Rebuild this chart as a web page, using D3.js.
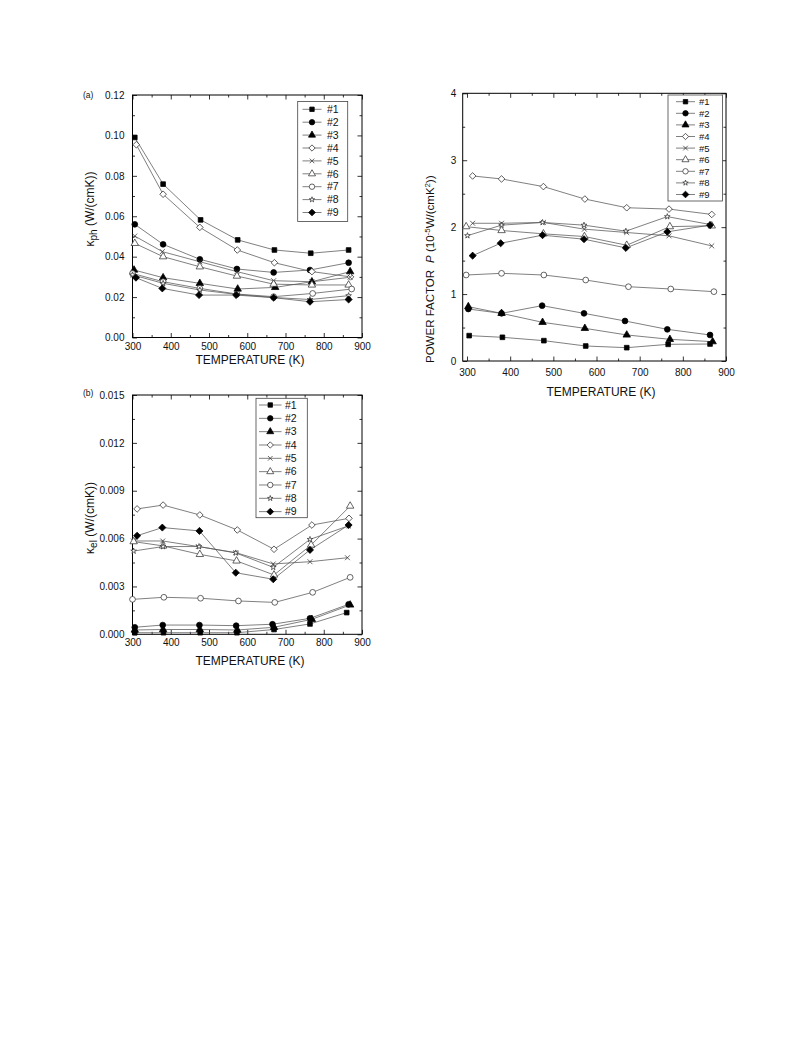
<!DOCTYPE html>
<html>
<head>
<meta charset="utf-8">
<script src="https://cdn.jsdelivr.net/npm/d3@7"></script>
<style>
  html, body { margin: 0; padding: 0; background: #fff; }
  svg { display: block; }
  text { font-family: "Liberation Sans", Arial, sans-serif; fill: #111; }
</style>
</head>
<body>
<svg id="chart" width="793" height="1059"></svg>
<script>
// ---------------- DATA ----------------
const seriesNames = ["#1", "#2", "#3", "#4", "#5", "#6", "#7", "#8", "#9"];

const xTicks = [300, 400, 500, 600, 700, 800, 900];
const xMinorTicks = [350, 450, 550, 650, 750, 850];

// (a) phonon thermal conductivity, W/(cmK)
const kphTemps = [
  [306, 380, 478, 575, 671, 766, 865],
  [306, 380, 476, 573, 669, 764, 865],
  [304, 380, 476, 575, 673, 769, 869],
  [310, 380, 476, 574, 671, 769, 870],
  [306, 378, 476, 573, 669, 769, 869],
  [306, 380, 476, 573, 669, 769, 865],
  [300, 380, 476, 573, 669, 771, 873],
  [300, 380, 476, 573, 669, 764, 865],
  [309, 378, 474, 571, 669, 764, 865]
];
const kphValues = [
  [0.0990, 0.0759, 0.0582, 0.0483, 0.0433, 0.0417, 0.0433],
  [0.0560, 0.0461, 0.0387, 0.0339, 0.0322, 0.0334, 0.0370],
  [0.0334, 0.0296, 0.0268, 0.0240, 0.0248, 0.0276, 0.0326],
  [0.0954, 0.0709, 0.0545, 0.0433, 0.0370, 0.0326, 0.0300],
  [0.0502, 0.0425, 0.0375, 0.0326, 0.0281, 0.0276, 0.0298],
  [0.0466, 0.0400, 0.0350, 0.0304, 0.0264, 0.0260, 0.0260],
  [0.0317, 0.0276, 0.0243, 0.0215, 0.0202, 0.0218, 0.0240],
  [0.0310, 0.0268, 0.0235, 0.0213, 0.0198, 0.0188, 0.0207],
  [0.0296, 0.0243, 0.0210, 0.0210, 0.0197, 0.0177, 0.0188]
];
const kphYTicks = [0.00, 0.02, 0.04, 0.06, 0.08, 0.10, 0.12];
const kphYMinor = [0.01, 0.03, 0.05, 0.07, 0.09, 0.11];

// (b) electronic thermal conductivity, W/(cmK)
const kelTemps = [
  [306, 381, 477, 573, 670, 764, 860],
  [306, 379, 475, 571, 666, 764, 865],
  [306, 380, 476, 574, 670, 769, 869],
  [312, 380, 476, 574, 670, 769, 866],
  [302, 379, 472, 570, 668, 764, 862],
  [303, 380, 476, 572, 670, 767, 869],
  [300, 382, 478, 577, 672, 771, 869],
  [303, 380, 474, 570, 668, 764, 865],
  [312, 378, 475, 570, 668, 764, 865]
];
const kelValues = [
  [0.00010, 0.00010, 0.00010, 0.00010, 0.00030, 0.00065, 0.00136],
  [0.00044, 0.00058, 0.00058, 0.00054, 0.00063, 0.00100, 0.00188],
  [0.00027, 0.00030, 0.00030, 0.00027, 0.00044, 0.00094, 0.00184],
  [0.00786, 0.00810, 0.00748, 0.00654, 0.00533, 0.00685, 0.00727],
  [0.00585, 0.00585, 0.00550, 0.00512, 0.00441, 0.00455, 0.00480],
  [0.00581, 0.00554, 0.00501, 0.00460, 0.00372, 0.00560, 0.00804],
  [0.00219, 0.00232, 0.00226, 0.00209, 0.00200, 0.00263, 0.00357],
  [0.00522, 0.00550, 0.00550, 0.00510, 0.00420, 0.00595, 0.00680],
  [0.00618, 0.00669, 0.00648, 0.00386, 0.00345, 0.00529, 0.00685]
];
const kelYTicks = [0.000, 0.003, 0.006, 0.009, 0.012, 0.015];
const kelYMinor = [0.0015, 0.0045, 0.0075, 0.0105, 0.0135];

// Power factor, 10^-5 W/(cmK^2)
const pfTemps = [
  [305, 382, 478, 575, 670, 766, 863],
  [303, 380, 474, 571, 666, 764, 863],
  [303, 380, 475, 573, 670, 770, 869],
  [313, 380, 477, 573, 670, 768, 867],
  [313, 380, 477, 572, 670, 768, 867],
  [298, 380, 477, 572, 670, 770, 867],
  [298, 380, 478, 575, 674, 772, 872],
  [301, 380, 475, 571, 668, 764, 863],
  [313, 378, 475, 571, 668, 764, 863]
];
const pfValues = [
  [0.379, 0.354, 0.304, 0.224, 0.199, 0.249, 0.254],
  [0.777, 0.712, 0.827, 0.712, 0.598, 0.473, 0.389],
  [0.812, 0.712, 0.578, 0.488, 0.389, 0.324, 0.289],
  [2.765, 2.720, 2.606, 2.420, 2.290, 2.270, 2.190],
  [2.058, 2.058, 2.070, 1.970, 1.920, 1.870, 1.720],
  [2.008, 1.950, 1.900, 1.860, 1.730, 2.008, 2.020],
  [1.285, 1.310, 1.285, 1.210, 1.110, 1.076, 1.036],
  [1.873, 2.030, 2.070, 2.030, 1.940, 2.157, 2.040],
  [1.574, 1.760, 1.880, 1.820, 1.690, 1.930, 2.030]
];
const pfYTicks = [0, 1, 2, 3, 4];
const pfYMinor = [0.5, 1.5, 2.5, 3.5];

// ---------------- STYLE ----------------
const crossSym = {
  draw(ctx, size) {
    const r = Math.sqrt(size) / 2;
    ctx.moveTo(-r, -r); ctx.lineTo(r, r);
    ctx.moveTo(r, -r); ctx.lineTo(-r, r);
  }
};
// marker style per series index
const markerStyle = [
  { type: d3.symbolSquare,   size: 22, fill: "#000", rot: 0 },
  { type: d3.symbolCircle,   size: 26, fill: "#000", rot: 0 },
  { type: d3.symbolTriangle, size: 24, fill: "#000", rot: 0 },
  { type: d3.symbolSquare,   size: 22, fill: "#fff", rot: 45 },
  { type: crossSym,          size: 24, fill: "none", rot: 0 },
  { type: d3.symbolTriangle, size: 24, fill: "#fff", rot: 0 },
  { type: d3.symbolCircle,   size: 26, fill: "#fff", rot: 0 },
  { type: d3.symbolStar,     size: 10, fill: "#fff", rot: 0 },
  { type: d3.symbolSquare,   size: 25, fill: "#000", rot: 45 }
];
const lineColor = "#555";

const svg = d3.select("#chart");

function drawMarker(g, i, x, y, scale) {
  const s = markerStyle[i];
  const k = scale || 1;
  g.append("path")
    .attr("d", d3.symbol().type(s.type).size(s.size * k)())
    .attr("transform", `translate(${x},${y}) rotate(${s.rot})`)
    .attr("fill", s.fill)
    .attr("stroke", s.fill === "#000" ? "#000" : "#333")
    .attr("stroke-width", 0.75);
}

function drawPanel(cfg) {
  const g = svg.append("g");
  const x = d3.scaleLinear().domain(cfg.xDomain).range([cfg.x0, cfg.x1]);
  const y = d3.scaleLinear().domain(cfg.yDomain).range([cfg.y1, cfg.y0]);

  const major = 4.5, minor = 2.5;
  const styleAxis = sel => {
    sel.select(".domain").remove();
    sel.selectAll("line").attr("stroke", "#000").attr("stroke-width", 0.8);
    sel.selectAll("text").attr("font-size", cfg.tickFont + "px")
      .attr("font-family", '"Liberation Sans", Arial, sans-serif').attr("fill", "#111");
  };
  // bottom
  g.append("g").attr("transform", `translate(0,${cfg.y1})`)
    .call(d3.axisBottom(x).tickValues(xTicks).tickSizeInner(-major).tickSizeOuter(0).tickPadding(cfg.xPad)).call(styleAxis);
  g.append("g").attr("transform", `translate(0,${cfg.y1})`)
    .call(d3.axisBottom(x).tickValues(xMinorTicks).tickSizeInner(-minor).tickSizeOuter(0).tickFormat("")).call(styleAxis);
  // top
  g.append("g").attr("transform", `translate(0,${cfg.y0})`)
    .call(d3.axisTop(x).tickValues(xTicks).tickSizeInner(-major).tickSizeOuter(0).tickFormat("")).call(styleAxis);
  g.append("g").attr("transform", `translate(0,${cfg.y0})`)
    .call(d3.axisTop(x).tickValues(xMinorTicks).tickSizeInner(-minor).tickSizeOuter(0).tickFormat("")).call(styleAxis);
  // left
  g.append("g").attr("transform", `translate(${cfg.x0},0)`)
    .call(d3.axisLeft(y).tickValues(cfg.yTicks).tickSizeInner(-major).tickSizeOuter(0).tickPadding(cfg.yPad).tickFormat(d3.format(cfg.yFormat))).call(styleAxis);
  g.append("g").attr("transform", `translate(${cfg.x0},0)`)
    .call(d3.axisLeft(y).tickValues(cfg.yMinor).tickSizeInner(-minor).tickSizeOuter(0).tickFormat("")).call(styleAxis);
  // right
  g.append("g").attr("transform", `translate(${cfg.x1},0)`)
    .call(d3.axisRight(y).tickValues(cfg.yTicks).tickSizeInner(-major).tickSizeOuter(0).tickFormat("")).call(styleAxis);
  g.append("g").attr("transform", `translate(${cfg.x1},0)`)
    .call(d3.axisRight(y).tickValues(cfg.yMinor).tickSizeInner(-minor).tickSizeOuter(0).tickFormat("")).call(styleAxis);

  // frame
  g.append("rect").attr("x", cfg.x0).attr("y", cfg.y0)
    .attr("width", cfg.x1 - cfg.x0).attr("height", cfg.y1 - cfg.y0)
    .attr("fill", "none").attr("stroke", "#000").attr("stroke-width", 1);

  // series
  const line = d3.line().x(d => x(d[0])).y(d => y(d[1]));
  cfg.values.forEach((vals, i) => {
    const pts = vals.map((v, j) => [cfg.temps[i][j], v]);
    g.append("path").datum(pts).attr("d", line)
      .attr("fill", "none").attr("stroke", lineColor).attr("stroke-width", 0.75);
  });
  cfg.values.forEach((vals, i) => {
    vals.forEach((v, j) => drawMarker(g, i, x(cfg.temps[i][j]), y(v), cfg.mScale));
  });

  // legend
  const L = cfg.legend;
  g.append("rect").attr("x", L.x).attr("y", L.y).attr("width", L.w).attr("height", L.h)
    .attr("fill", "#fff").attr("stroke", "#444").attr("stroke-width", 0.8);
  seriesNames.forEach((name, i) => {
    const yy = L.ey + i * L.dy;
    g.append("line").attr("x1", L.lx1).attr("x2", L.lx2).attr("y1", yy).attr("y2", yy)
      .attr("stroke", lineColor).attr("stroke-width", 0.75);
    drawMarker(g, i, (L.lx1 + L.lx2) / 2, yy, cfg.mScale * 0.9);
    g.append("text").attr("x", L.tx).attr("y", yy).attr("dy", "0.36em")
      .attr("font-size", L.font + "px").text(name);
  });

  // x title
  g.append("text").attr("x", cfg.xTitleX).attr("y", cfg.xTitleY)
    .attr("text-anchor", "middle").attr("font-size", "12px").text("TEMPERATURE (K)");
  return g;
}

// ---------- Panel (a) ----------
const gA = drawPanel({
  x0: 132.5, x1: 362, y0: 95, y1: 337.5,
  xDomain: [300, 900], yDomain: [0, 0.12],
  yTicks: kphYTicks, yMinor: kphYMinor, yFormat: ".2f",
  tickFont: 10, xPad: 5, yPad: 8, mScale: 1,
  temps: kphTemps, values: kphValues,
  legend: { x: 297.7, y: 101.5, w: 50, h: 120, ey: 109.3, dy: 12.9, lx1: 302.5, lx2: 321.5, tx: 327, font: 10.5 },
  xTitleX: 250, xTitleY: 364
});
gA.append("text").attr("x", 83).attr("y", 98).attr("font-size", "8.5px").text("(a)");
{
  const t = gA.append("text").attr("transform", "translate(94,209) rotate(-90)")
    .attr("text-anchor", "middle").attr("font-size", "12px");
  t.append("tspan").text("κ");
  t.append("tspan").attr("dy", 3).attr("font-size", "10px").text("ph");
  t.append("tspan").attr("dy", -3).text(" (W/(cmK))");
}

// ---------- Panel (b) ----------
const gB = drawPanel({
  x0: 132.5, x1: 362, y0: 395, y1: 634.3,
  xDomain: [300, 900], yDomain: [0, 0.015],
  yTicks: kelYTicks, yMinor: kelYMinor, yFormat: ".3f",
  tickFont: 10, xPad: 5, yPad: 8, mScale: 1,
  temps: kelTemps, values: kelValues,
  legend: { x: 256, y: 398.3, w: 51.3, h: 119.4, ey: 405, dy: 13.33, lx1: 259, lx2: 281.5, tx: 285, font: 10.5 },
  xTitleX: 250, xTitleY: 665
});
gB.append("text").attr("x", 83).attr("y", 396).attr("font-size", "8.5px").text("(b)");
{
  const t = gB.append("text").attr("transform", "translate(94,518) rotate(-90)")
    .attr("text-anchor", "middle").attr("font-size", "12px");
  t.append("tspan").text("κ");
  t.append("tspan").attr("dy", 3).attr("font-size", "10px").text("el");
  t.append("tspan").attr("dy", -3).text(" (W/(cmK))");
}

// ---------- Power factor panel ----------
const gP = drawPanel({
  x0: 462.7, x1: 726, y0: 93.3, y1: 361,
  xDomain: [290, 900], yDomain: [0, 4],
  yTicks: pfYTicks, yMinor: pfYMinor, yFormat: "d",
  tickFont: 10, xPad: 7.5, yPad: 6.5, mScale: 1,
  temps: pfTemps, values: pfValues,
  legend: { x: 668, y: 95, w: 54.5, h: 106, ey: 101.7, dy: 11.6, lx1: 676, lx2: 695, tx: 699, font: 9.5 },
  xTitleX: 601, xTitleY: 396
});
{
  const t = gP.append("text").attr("transform", "translate(434,363) rotate(-90)")
    .attr("text-anchor", "start").attr("font-size", "11.5px");
  t.append("tspan").text("POWER FACTOR");
  t.append("tspan").attr("dx", 7).attr("font-style", "italic").text("P");
  t.append("tspan").text(" (10");
  t.append("tspan").attr("dy", -4).attr("font-size", "8px").text("-5");
  t.append("tspan").attr("dy", 4).text("W/(cmK");
  t.append("tspan").attr("dy", -4).attr("font-size", "8px").text("2");
  t.append("tspan").attr("dy", 4).text("))");
}
</script>
</body>
</html>
